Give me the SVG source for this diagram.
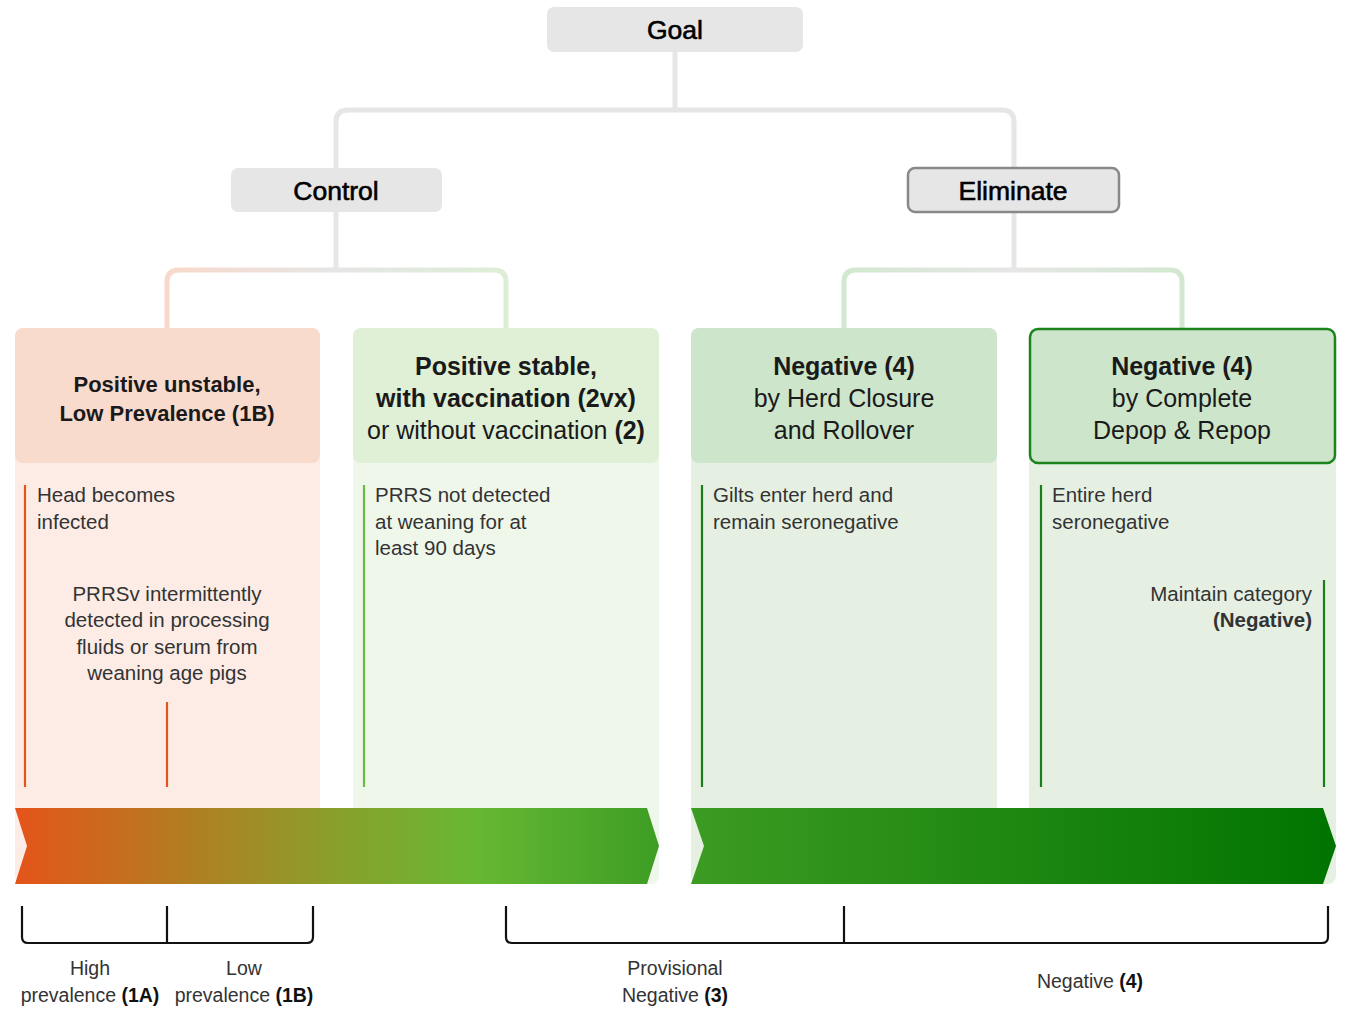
<svg xmlns="http://www.w3.org/2000/svg" width="1351" height="1010" viewBox="0 0 1351 1010">
<style>
text{font-family:"Liberation Sans",Arial,sans-serif;fill:#1a1a1a}
.top{font-size:26.5px;text-anchor:middle;fill:#000;stroke:#000;stroke-width:0.6}
.hd{font-size:25px;text-anchor:middle}
.hd1{font-size:22px;text-anchor:middle;font-weight:bold}
.b{font-weight:bold}
.bd{font-size:20.5px;fill:#333}
.lb{font-size:19.5px;fill:#333;text-anchor:middle}
.conn{fill:none;stroke-width:5}
.tl{stroke-width:2.2}
.br{fill:none;stroke:#111;stroke-width:2.2;stroke-linejoin:round}
</style>
<defs>
<linearGradient id="gc" gradientUnits="userSpaceOnUse" x1="167" y1="0" x2="506" y2="0">
<stop offset="0" stop-color="#f8d8ca"/><stop offset="0.5" stop-color="#e6e6e6"/><stop offset="1" stop-color="#ddeed6"/>
</linearGradient>
<linearGradient id="ge" gradientUnits="userSpaceOnUse" x1="844" y1="0" x2="1182" y2="0">
<stop offset="0" stop-color="#d2e8cf"/><stop offset="0.5" stop-color="#e6e6e6"/><stop offset="1" stop-color="#d2e8cf"/>
</linearGradient>
<linearGradient id="a1" gradientUnits="userSpaceOnUse" x1="15" y1="0" x2="659" y2="0">
<stop offset="0" stop-color="#e5541a"/><stop offset="0.25" stop-color="#b57b21"/><stop offset="0.5" stop-color="#89a02c"/><stop offset="0.72" stop-color="#66b833"/><stop offset="1" stop-color="#3d9d24"/>
</linearGradient>
<linearGradient id="a2" gradientUnits="userSpaceOnUse" x1="691" y1="0" x2="1336" y2="0">
<stop offset="0" stop-color="#3c9b22"/><stop offset="1" stop-color="#007400"/>
</linearGradient>
</defs>

<g id="connectors">
<path class="conn" stroke="#e6e6e6" d="M675,52 V110"/>
<path class="conn" stroke="#e6e6e6" d="M336,168 V122 Q336,110 348,110 H1002 Q1014,110 1014,122 V167"/>
<path class="conn" stroke="#e6e6e6" d="M336,212 V270"/>
<path class="conn" stroke="url(#gc)" d="M167,328 V282 Q167,270 179,270 H494 Q506,270 506,282 V328"/>
<path class="conn" stroke="#e6e6e6" d="M1014,213 V270"/>
<path class="conn" stroke="url(#ge)" d="M844,328 V282 Q844,270 856,270 H1170 Q1182,270 1182,282 V328"/>
</g>

<g id="goal">
<rect x="547" y="7" width="256" height="45" rx="7" fill="#e6e6e6"/>
<text class="top" x="675" y="39">Goal</text>
</g>
<g id="control">
<rect x="231" y="168" width="211" height="44" rx="7" fill="#e6e6e6"/>
<text class="top" x="336" y="200">Control</text>
</g>
<g id="eliminate">
<rect x="908" y="168" width="211" height="44" rx="7" fill="#e6e6e6" stroke="#888" stroke-width="2.5"/>
<text class="top" x="1013" y="200">Eliminate</text>
</g>

<g id="col1">
<rect x="15" y="328" width="305" height="556" rx="8" fill="#fcece5"/>
<rect x="15" y="328" width="305" height="135" rx="8" fill="#f8dbcd"/>
<text class="hd1" x="167" y="392">Positive unstable,</text>
<text class="hd1" x="167" y="421">Low Prevalence (1B)</text>
<line class="tl" x1="25" y1="485" x2="25" y2="787" stroke="#e2561b"/>
<line class="tl" x1="167" y1="702" x2="167" y2="787" stroke="#e2561b"/>
<text class="bd" x="37" y="502">Head becomes</text>
<text class="bd" x="37" y="529">infected</text>
<text class="bd" x="167" y="601" text-anchor="middle">PRRSv intermittently</text>
<text class="bd" x="167" y="627" text-anchor="middle">detected in processing</text>
<text class="bd" x="167" y="654" text-anchor="middle">fluids or serum from</text>
<text class="bd" x="167" y="680" text-anchor="middle">weaning age pigs</text>
</g>

<g id="col2">
<rect x="353" y="328" width="306" height="556" rx="8" fill="#eff7eb"/>
<rect x="353" y="328" width="306" height="135" rx="8" fill="#dff0d6"/>
<text class="hd b" x="506" y="375">Positive stable,</text>
<text class="hd b" x="506" y="407">with vaccination (2vx)</text>
<text class="hd" x="506" y="439">or without vaccination <tspan class="b">(2)</tspan></text>
<line class="tl" x1="364" y1="485" x2="364" y2="787" stroke="#6bbd3c"/>
<text class="bd" x="375" y="502">PRRS not detected</text>
<text class="bd" x="375" y="529">at weaning for at</text>
<text class="bd" x="375" y="555">least 90 days</text>
</g>

<g id="col3">
<rect x="691" y="328" width="306" height="556" rx="8" fill="#e5f0e3"/>
<rect x="691" y="328" width="306" height="135" rx="8" fill="#cde5cb"/>
<text class="hd b" x="844" y="375">Negative (4)</text>
<text class="hd" x="844" y="407">by Herd Closure</text>
<text class="hd" x="844" y="439">and Rollover</text>
<line class="tl" x1="702" y1="485" x2="702" y2="787" stroke="#1a7d1a"/>
<text class="bd" x="713" y="502">Gilts enter herd and</text>
<text class="bd" x="713" y="529">remain seronegative</text>
</g>

<g id="col4">
<rect x="1029" y="328" width="307" height="556" rx="8" fill="#e5f0e3"/>
<rect x="1030" y="329" width="305" height="134" rx="8" fill="#cde5cb" stroke="#1b851b" stroke-width="2.5"/>
<text class="hd b" x="1182" y="375">Negative (4)</text>
<text class="hd" x="1182" y="407">by Complete</text>
<text class="hd" x="1182" y="439">Depop &amp; Repop</text>
<line class="tl" x1="1041" y1="485" x2="1041" y2="787" stroke="#1a7d1a"/>
<line class="tl" x1="1324" y1="580" x2="1324" y2="787" stroke="#1a7d1a"/>
<text class="bd" x="1052" y="502">Entire herd</text>
<text class="bd" x="1052" y="529">seronegative</text>
<text class="bd" x="1312" y="601" text-anchor="end">Maintain category</text>
<text class="bd b" x="1312" y="627" text-anchor="end" fill="#111">(Negative)</text>
</g>

<g id="arrows">
<polygon points="15,808 647,808 659,846 647,884 15,884 27,846" fill="url(#a1)"/>
<polygon points="691,808 1323,808 1336,846 1323,884 691,884 704,846" fill="url(#a2)"/>
</g>

<g id="brackets">
<path class="br" d="M22,906 V937 Q22,943 28,943 H307 Q313,943 313,937 V906"/>
<path class="br" d="M167,906 V943"/>
<path class="br" d="M506,906 V937 Q506,943 512,943 H1322 Q1328,943 1328,937 V906"/>
<path class="br" d="M844,906 V943"/>
</g>

<g id="labels">
<text class="lb" x="90" y="975">High</text>
<text class="lb" x="90" y="1002">prevalence <tspan class="b" fill="#111">(1A)</tspan></text>
<text class="lb" x="244" y="975">Low</text>
<text class="lb" x="244" y="1002">prevalence <tspan class="b" fill="#111">(1B)</tspan></text>
<text class="lb" x="675" y="975">Provisional</text>
<text class="lb" x="675" y="1002">Negative <tspan class="b" fill="#111">(3)</tspan></text>
<text class="lb" x="1090" y="988">Negative <tspan class="b" fill="#111">(4)</tspan></text>
</g>
</svg>
